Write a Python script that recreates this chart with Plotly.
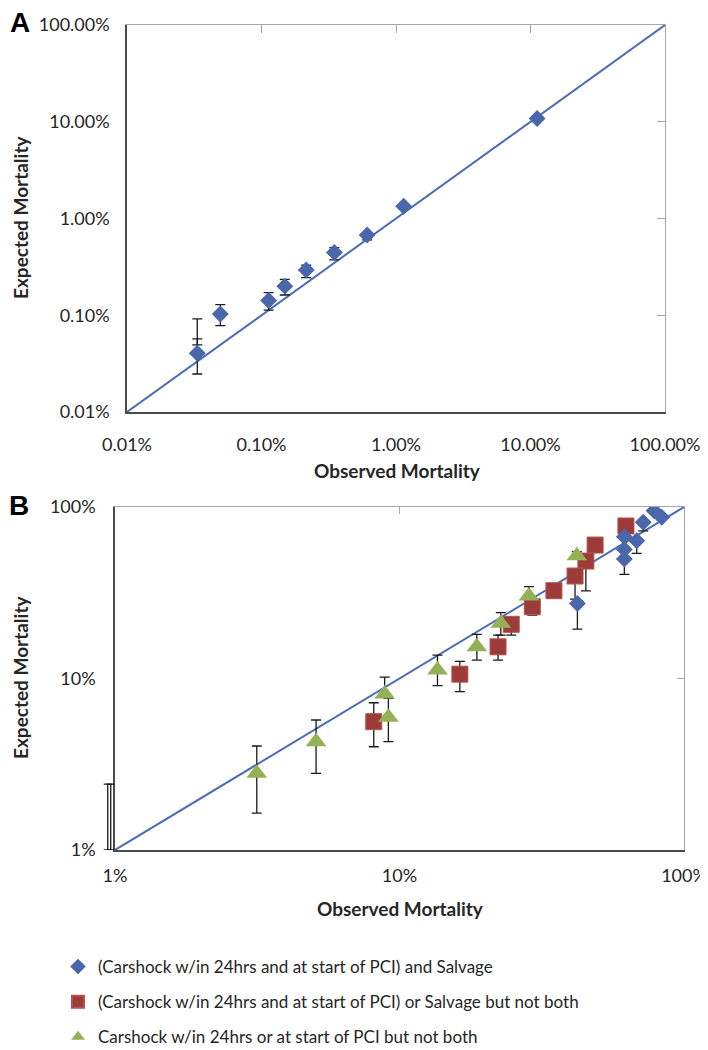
import plotly.graph_objects as go

# ---------------- Panel A data (percent) ----------------
a_obs = [0.0333, 0.0494, 0.113, 0.149, 0.215, 0.348, 0.610, 1.14, 11.2]
a_exp = [0.0405, 0.103, 0.142, 0.200, 0.294, 0.446, 0.676, 1.34, 10.8]
a_hi = [0.0916, 0.129, 0.171, 0.235, 0.330, 0.500, 0.700, 1.38, 11.0]
a_lo = [0.0247, 0.078, 0.113, 0.162, 0.245, 0.374, 0.600, 1.28, 10.5]
# extra error caps seen at the lowest observed value
a2_obs = [0.0333]
a2_exp = [0.0530]
a2_hi = [0.0571]
a2_lo = [0.0495]

# ---------------- Panel B data (percent) ----------------
b1_obs = [78.5, 83.5, 71.9, 68.2, 61.7, 61.7, 61.7, 42.2]
b1_exp = [95.1, 87.1, 81.5, 63.6, 67.1, 56.6, 49.8, 27.4]
b1_hi = [95.1, 87.1, 81.5, 63.6, 67.1, 56.6, 49.8, 27.4]
b1_lo = [95.1, 87.1, 72.6, 53.6, 67.1, 56.6, 40.5, 19.4]

b2_obs = [62.5, 48.7, 45.2, 41.4, 34.9, 29.3, 24.7, 22.2, 16.3, 8.12]
b2_exp = [77.5, 60.0, 48.4, 39.6, 32.5, 26.2, 20.7, 15.3, 10.6, 5.6]
b2_hi = [77.5, 60.0, 48.4, 39.6, 32.5, 26.2, 20.7, 17.9, 12.6, 7.22]
b2_lo = [77.5, 60.0, 32.4, 29.0, 32.5, 23.4, 17.9, 12.8, 8.38, 4.0]

b3_obs = [3.15, 5.09, 8.87, 9.14, 13.6, 18.7, 22.7, 28.5, 42.0]
b3_exp = [2.80, 4.28, 8.12, 5.94, 11.2, 15.3, 21.0, 30.3, 52.0]
b3_hi = [4.04, 5.73, 10.2, 7.65, 13.7, 18.1, 24.2, 34.3, 55.0]
b3_lo = [1.64, 2.80, 8.12, 4.28, 9.08, 12.8, 17.9, 30.3, 52.0]

# error bars of values just off the left edge of panel B
b4_obs = [0.943, 0.966]
b4_exp = [1.0, 1.0]
b4_hi = [2.42, 2.42]
b4_lo = [1.0, 1.0]

diag_a = [0.01, 100]
diag_b = [1, 100]

a_tickvals = [0.01, 0.1, 1, 10, 100]
a_ticktext = ["0.01%", "0.10%", "1.00%", "10.00%", "100.00%"]
b_tickvals = [1, 10, 100]
b_ticktext = ["1%", "10%", "100%"]

legend_names = [
    "(Carshock w/in 24hrs and at start of PCI) and Salvage",
    "(Carshock w/in 24hrs and at start of PCI) or Salvage but not both",
    "Carshock w/in 24hrs or at start of PCI but not both",
]

BLUE = "#4A67AB"
RED = "#9C3B38"
GREEN = "#94B255"
LINE = "#4A6DB5"
ERR = "#1a1a1a"
FONT = "Lato"
TXT = "#262626"

# the page body adds an 8px margin at the top-left
OFF = 8
W, H = 708, 1050 - OFF


def px(v):
    return (v - OFF) / W


def py(v):
    return 1 - (v - OFF) / H


def err(y, hi, lo, width=5):
    return dict(type="data", symmetric=False,
                array=[h - v for h, v in zip(hi, y)],
                arrayminus=[v - l for v, l in zip(y, lo)],
                color=ERR, thickness=1.3, width=width)


fig = go.Figure()

# Panel A
fig.add_trace(go.Scatter(x=diag_a, y=diag_a, mode="lines", line=dict(color=LINE, width=2),
                         xaxis="x", yaxis="y", showlegend=False, hoverinfo="skip"))
fig.add_trace(go.Scatter(x=a2_obs, y=a2_exp, mode="markers", marker=dict(opacity=0, size=1),
                         error_y=err(a2_exp, a2_hi, a2_lo), xaxis="x", yaxis="y",
                         showlegend=False, hoverinfo="skip"))
fig.add_trace(go.Scatter(x=a_obs, y=a_exp, mode="markers",
                         marker=dict(symbol="diamond", size=13, color=BLUE, line=dict(width=0)),
                         error_y=err(a_exp, a_hi, a_lo), xaxis="x", yaxis="y", showlegend=False))
# invisible carrier for the top/right frame axes of panel A
fig.add_trace(go.Scatter(x=diag_a, y=diag_a, mode="lines", line=dict(width=0), opacity=0,
                         xaxis="x3", yaxis="y3", showlegend=False, hoverinfo="skip"))

# Panel B
fig.add_trace(go.Scatter(x=diag_b, y=diag_b, mode="lines", line=dict(color=LINE, width=2),
                         xaxis="x2", yaxis="y2", showlegend=False, hoverinfo="skip"))
# off-range error bars, drawn on a thin strip that continues panel B's scale to the left
fig.add_trace(go.Scatter(x=b4_obs, y=b4_exp, mode="markers", marker=dict(opacity=0, size=1),
                         error_y=err(b4_exp, b4_hi, b4_lo, width=4), xaxis="x5", yaxis="y5",
                         showlegend=False, hoverinfo="skip"))
fig.add_trace(go.Scatter(x=b2_obs, y=b2_exp, mode="markers", name=legend_names[1],
                         marker=dict(symbol="square", size=16, color=RED, line=dict(width=1, color="#B5524F")),
                         error_y=err(b2_exp, b2_hi, b2_lo), xaxis="x2", yaxis="y2",
                         legendgroup="g2", legendrank=2))
fig.add_trace(go.Scatter(x=b1_obs, y=b1_exp, mode="markers", name=legend_names[0],
                         marker=dict(symbol="diamond", size=13, color=BLUE, line=dict(width=0)),
                         error_y=err(b1_exp, b1_hi, b1_lo), xaxis="x2", yaxis="y2",
                         legendgroup="g1", legendrank=1))
fig.add_trace(go.Scatter(x=b3_obs, y=b3_exp, mode="markers", name=legend_names[2],
                         marker=dict(symbol="triangle-up", size=18, color=GREEN, line=dict(width=0)),
                         error_y=err(b3_exp, b3_hi, b3_lo), xaxis="x2", yaxis="y2",
                         legendgroup="g3", legendrank=3))
fig.add_trace(go.Scatter(x=diag_b, y=diag_b, mode="lines", line=dict(width=0), opacity=0,
                         xaxis="x4", yaxis="y4", showlegend=False, hoverinfo="skip"))

DARK = "#4a4a4a"
GRAY = "#a6a6a6"
tickfont = dict(family=FONT, size=18, color=TXT)

axA_x = [px(127), px(665)]
axA_y = [py(412), py(25)]
B_LEFT, B_RIGHT = 115, 684
axB_x = [px(B_LEFT), px(B_RIGHT)]
axB_y = [py(850), py(507)]
B_DECADE = (B_RIGHT - B_LEFT) / 2.0
STRIP_LEFT = 98

common = dict(type="log", showgrid=False, zeroline=False, automargin=False,
              ticklabeloverflow="allow")

fig.update_layout(
    width=W, height=H, margin=dict(l=0, r=0, t=0, b=0, autoexpand=False),
    paper_bgcolor="white", plot_bgcolor="white",
    showlegend=True,
    legend=dict(x=px(58), y=py(949), xanchor="left", yanchor="top",
                font=dict(family=FONT, size=17, color=TXT),
                traceorder="grouped", tracegroupgap=10, itemsizing="constant",
                bgcolor="rgba(0,0,0,0)"),
    xaxis=dict(domain=axA_x, range=[-2, 2], anchor="y",
               tickvals=a_tickvals, ticktext=a_ticktext, ticks="",
               showline=True, linecolor=DARK, linewidth=1.5,
               tickfont=tickfont, ticklabelstandoff=16, **common),
    yaxis=dict(domain=axA_y, range=[-2, 2], anchor="x",
               tickvals=a_tickvals, ticktext=a_ticktext, ticks="",
               showline=True, linecolor=DARK, linewidth=1.5,
               tickfont=tickfont, ticklabelstandoff=12, **common),
    xaxis3=dict(overlaying="x", side="top", anchor="y3", range=[-2, 2],
                tickvals=[0.1, 1, 10], ticks="inside", ticklen=8, tickcolor=GRAY,
                showticklabels=False, showline=True, linecolor=GRAY, linewidth=1.2, **common),
    yaxis3=dict(overlaying="y", side="right", anchor="x3", range=[-2, 2],
                tickvals=[0.1, 1, 10], ticks="inside", ticklen=8, tickcolor=GRAY,
                showticklabels=False, showline=True, linecolor=GRAY, linewidth=1.2, **common),
    xaxis2=dict(domain=axB_x, range=[0, 2], anchor="y2",
                tickvals=b_tickvals, ticktext=b_ticktext, ticks="",
                showline=True, linecolor=DARK, linewidth=1.5,
                tickfont=tickfont, ticklabelstandoff=9, **common),
    yaxis2=dict(domain=axB_y, range=[0, 2], anchor="x2",
                tickvals=b_tickvals, ticktext=b_ticktext, ticks="",
                showline=True, linecolor=DARK, linewidth=1.5,
                tickfont=tickfont, ticklabelstandoff=14, **common),
    xaxis4=dict(overlaying="x2", side="top", anchor="y4", range=[0, 2],
                tickvals=[10], ticks="inside", ticklen=7, tickcolor=GRAY,
                showticklabels=False, showline=True, linecolor=GRAY, linewidth=1.2, **common),
    yaxis4=dict(overlaying="y2", side="right", anchor="x4", range=[0, 2],
                tickvals=[10], ticks="inside", ticklen=7, tickcolor=GRAY,
                showticklabels=False, showline=True, linecolor=GRAY, linewidth=1.2, **common),
    xaxis5=dict(domain=[px(STRIP_LEFT), px(B_LEFT)], anchor="y5",
                range=[-(B_LEFT - STRIP_LEFT) / B_DECADE, 0], visible=False, **common),
    yaxis5=dict(domain=axB_y, anchor="x5", range=[0, 2], visible=False, **common),
)

title_font = dict(family=FONT, size=19, color=TXT, weight="bold")
annots = [
    dict(text="Observed Mortality", x=px(397), y=py(470), font=title_font),
    dict(text="Expected Mortality", x=px(20), y=py(218), textangle=-90, font=title_font),
    dict(text="Observed Mortality", x=px(400), y=py(908), font=title_font),
    dict(text="Expected Mortality", x=px(20), y=py(678), textangle=-90, font=title_font),
    dict(text="A", x=px(20), y=py(22),
         font=dict(family="Liberation Sans", size=28, color="black", weight="bold")),
    dict(text="B", x=px(19), y=py(505),
         font=dict(family="Liberation Sans", size=28, color="black", weight="bold")),
]
for a in annots:
    a.update(xref="paper", yref="paper", showarrow=False, xanchor="center", yanchor="middle")
fig.update_layout(annotations=annots)

fig.write_html("out.html")
